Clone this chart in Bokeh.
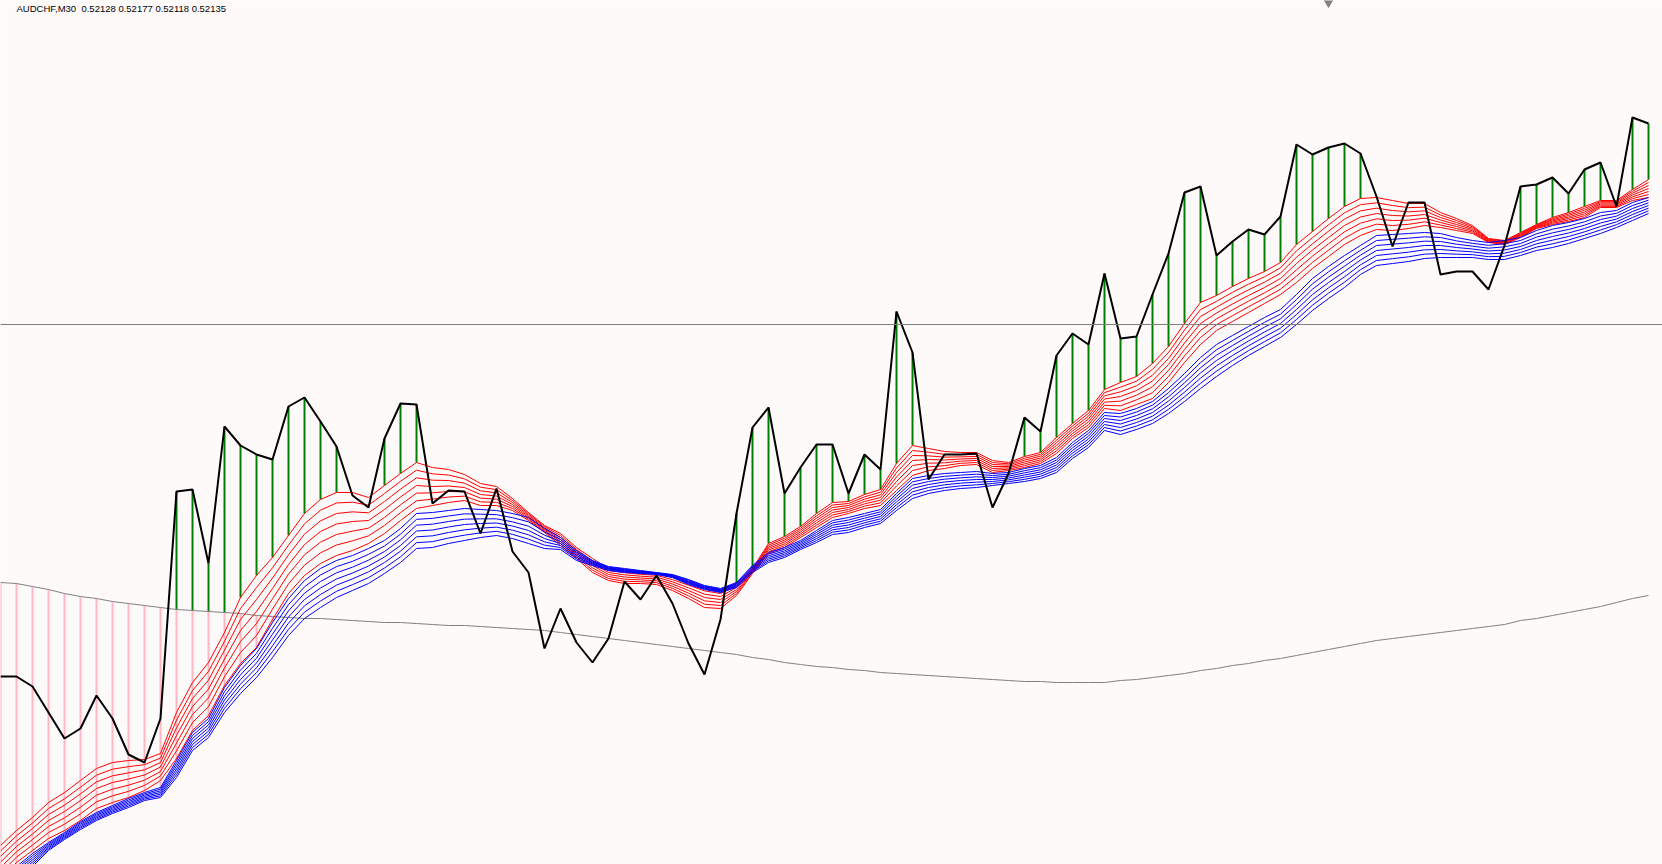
import numpy as np
from bokeh.plotting import figure
from bokeh.models import Range1d, Label, Span
from bokeh.embed import file_html
from bokeh.resources import INLINE

symbol = "AUDCHF,M30"
ohlc_text = "0.52128 0.52177 0.52118 0.52135"

close = [
    0.51582, 0.51582, 0.51572, 0.51546, 0.51520, 0.51530, 0.51563, 0.51540, 0.51504, 0.51496,
    0.51540, 0.51767, 0.51769, 0.51695, 0.51832, 0.51813, 0.51804, 0.51799, 0.51852, 0.51861,
    0.51837, 0.51812, 0.51763, 0.51751, 0.51820, 0.51855, 0.51854, 0.51755, 0.51768, 0.51767,
    0.51725, 0.51770, 0.51707, 0.51686, 0.51610, 0.51650, 0.51616, 0.51596, 0.51620, 0.51677,
    0.51659, 0.51683, 0.51655, 0.51615, 0.51584, 0.51639, 0.51745, 0.51831, 0.51851, 0.51765,
    0.51791, 0.51814, 0.51814, 0.51765, 0.51804, 0.51789, 0.51947, 0.51906, 0.51779, 0.51804,
    0.51804, 0.51805, 0.51751, 0.51785, 0.51841, 0.51827, 0.51903, 0.51925, 0.51914, 0.51985,
    0.51920, 0.51922, 0.51964, 0.52005, 0.52066, 0.52072, 0.52003, 0.52017, 0.52029, 0.52024,
    0.52042, 0.52114, 0.52104, 0.52111, 0.52115, 0.52105, 0.52062, 0.52012, 0.52056, 0.52056,
    0.51984, 0.51987, 0.51987, 0.51969, 0.52013, 0.52072, 0.52074, 0.52081, 0.52065, 0.52089,
    0.52096, 0.52052, 0.52141, 0.52135]

red_upper = [
    0.51413, 0.51428, 0.51441, 0.51456, 0.51466, 0.51478, 0.51490, 0.51496, 0.51498, 0.51499,
    0.51505, 0.51546, 0.51576, 0.51596, 0.51626, 0.51661, 0.51683, 0.51701, 0.51723, 0.51745,
    0.51759, 0.51766, 0.51766, 0.51761, 0.51773, 0.51785, 0.51796, 0.51791, 0.51789, 0.51784,
    0.51775, 0.51772, 0.51760, 0.51746, 0.51733, 0.51725, 0.51711, 0.51700, 0.51690, 0.51688,
    0.51686, 0.51685, 0.51681, 0.51676, 0.51671, 0.51668, 0.51675, 0.51690, 0.51715, 0.51722,
    0.51732, 0.51745, 0.51756, 0.51757, 0.51764, 0.51769, 0.51795, 0.51813, 0.51810, 0.51807,
    0.51806, 0.51806, 0.51798, 0.51796, 0.51802, 0.51806, 0.51821, 0.51835, 0.51848, 0.51869,
    0.51876, 0.51882, 0.51895, 0.51912, 0.51935, 0.51956, 0.51963, 0.51972, 0.51980, 0.51987,
    0.51996, 0.52014, 0.52027, 0.52040, 0.52052, 0.52060, 0.52061, 0.52058, 0.52055, 0.52055,
    0.52046, 0.52040, 0.52033, 0.52020, 0.52018, 0.52026, 0.52034, 0.52041, 0.52046, 0.52052,
    0.52058, 0.52058, 0.52069, 0.52079]

red_lower = [
    0.51380, 0.51396, 0.51408, 0.51420, 0.51428, 0.51438, 0.51450, 0.51456, 0.51461, 0.51468,
    0.51478, 0.51500, 0.51528, 0.51543, 0.51573, 0.51595, 0.51611, 0.51639, 0.51665, 0.51683,
    0.51695, 0.51703, 0.51708, 0.51715, 0.51725, 0.51738, 0.51750, 0.51753, 0.51756, 0.51758,
    0.51753, 0.51753, 0.51748, 0.51738, 0.51726, 0.51713, 0.51700, 0.51686, 0.51678, 0.51675,
    0.51675, 0.51674, 0.51668, 0.51660, 0.51651, 0.51650, 0.51663, 0.51685, 0.51705, 0.51711,
    0.51721, 0.51731, 0.51741, 0.51745, 0.51750, 0.51753, 0.51768, 0.51783, 0.51788, 0.51790,
    0.51793, 0.51794, 0.51786, 0.51788, 0.51791, 0.51795, 0.51805, 0.51820, 0.51831, 0.51850,
    0.51848, 0.51854, 0.51860, 0.51876, 0.51896, 0.51914, 0.51928, 0.51937, 0.51946, 0.51955,
    0.51964, 0.51976, 0.51990, 0.52002, 0.52014, 0.52023, 0.52029, 0.52028, 0.52030, 0.52033,
    0.52031, 0.52028, 0.52025, 0.52016, 0.52014, 0.52021, 0.52030, 0.52034, 0.52037, 0.52041,
    0.52051, 0.52051, 0.52058, 0.52061]

blue_upper = [
    0.51376, 0.51392, 0.51405, 0.51416, 0.51426, 0.51437, 0.51446, 0.51453, 0.51460, 0.51466,
    0.51471, 0.51498, 0.51526, 0.51540, 0.51571, 0.51593, 0.51610, 0.51636, 0.51660, 0.51678,
    0.51690, 0.51698, 0.51703, 0.51710, 0.51718, 0.51730, 0.51745, 0.51746, 0.51748, 0.51750,
    0.51749, 0.51748, 0.51745, 0.51741, 0.51730, 0.51721, 0.51708, 0.51698, 0.51692, 0.51690,
    0.51688, 0.51686, 0.51684, 0.51679, 0.51673, 0.51670, 0.51676, 0.51693, 0.51706, 0.51711,
    0.51718, 0.51728, 0.51738, 0.51741, 0.51745, 0.51749, 0.51765, 0.51780, 0.51783, 0.51785,
    0.51786, 0.51787, 0.51785, 0.51786, 0.51790, 0.51793, 0.51801, 0.51816, 0.51828, 0.51846,
    0.51845, 0.51850, 0.51857, 0.51870, 0.51885, 0.51901, 0.51914, 0.51923, 0.51932, 0.51941,
    0.51949, 0.51964, 0.51980, 0.51992, 0.52003, 0.52013, 0.52023, 0.52024, 0.52025, 0.52026,
    0.52025, 0.52021, 0.52018, 0.52016, 0.52018, 0.52021, 0.52028, 0.52033, 0.52036, 0.52040,
    0.52046, 0.52048, 0.52056, 0.52061]

blue_lower = [
    0.51363, 0.51380, 0.51392, 0.51408, 0.51419, 0.51429, 0.51438, 0.51445, 0.51451, 0.51458,
    0.51461, 0.51481, 0.51508, 0.51521, 0.51546, 0.51565, 0.51581, 0.51601, 0.51623, 0.51640,
    0.51651, 0.51661, 0.51668, 0.51675, 0.51685, 0.51696, 0.51710, 0.51711, 0.51715, 0.51718,
    0.51721, 0.51723, 0.51720, 0.51715, 0.51710, 0.51709, 0.51698, 0.51693, 0.51688, 0.51686,
    0.51685, 0.51684, 0.51681, 0.51674, 0.51669, 0.51666, 0.51671, 0.51686, 0.51696, 0.51701,
    0.51709, 0.51716, 0.51724, 0.51726, 0.51731, 0.51735, 0.51748, 0.51760, 0.51765, 0.51768,
    0.51770, 0.51771, 0.51773, 0.51775, 0.51777, 0.51780, 0.51786, 0.51800, 0.51811, 0.51828,
    0.51824, 0.51829, 0.51835, 0.51845, 0.51857, 0.51870, 0.51882, 0.51893, 0.51903, 0.51912,
    0.51921, 0.51934, 0.51948, 0.51960, 0.51971, 0.51984, 0.51993, 0.51995, 0.51997, 0.52000,
    0.52001, 0.52001, 0.52001, 0.51999, 0.51999, 0.52003, 0.52008, 0.52011, 0.52015, 0.52020,
    0.52025, 0.52031, 0.52038, 0.52045]

slow_ma = [
    0.51676, 0.51675, 0.51672, 0.51669, 0.51665, 0.51662, 0.51660, 0.51657, 0.51655, 0.51653,
    0.51651, 0.51649, 0.51648, 0.51647, 0.51646, 0.51645, 0.51643, 0.51642, 0.51641, 0.51640,
    0.51640, 0.51639, 0.51638, 0.51637, 0.51636, 0.51636, 0.51635, 0.51634, 0.51633, 0.51633,
    0.51632, 0.51631, 0.51630, 0.51629, 0.51628, 0.51626, 0.51624, 0.51622, 0.51620, 0.51618,
    0.51616, 0.51614, 0.51612, 0.51610, 0.51608, 0.51606, 0.51604, 0.51601, 0.51599, 0.51596,
    0.51594, 0.51592, 0.51591, 0.51589, 0.51588, 0.51586, 0.51585, 0.51584, 0.51583, 0.51582,
    0.51581, 0.51580, 0.51579, 0.51578, 0.51577, 0.51577, 0.51576, 0.51576, 0.51576, 0.51576,
    0.51578, 0.51579, 0.51581, 0.51583, 0.51585, 0.51588, 0.51590, 0.51593, 0.51595, 0.51598,
    0.51600, 0.51603, 0.51606, 0.51609, 0.51612, 0.51615, 0.51618, 0.51620, 0.51622, 0.51624,
    0.51626, 0.51628, 0.51630, 0.51632, 0.51634, 0.51638, 0.51640, 0.51643, 0.51646, 0.51649,
    0.51652, 0.51656, 0.51660, 0.51663]

level_price = 0.51934
shift_marker_bar = 83
lines_per_band = 7

W, H = 1662, 864
BAR_PX = 16.0
PRICE_TOP = 0.52258
PX_PER_PRICE = 100000.0

n = len(close)
bars = np.arange(n)
c = np.array(close)
ru, rl = np.array(red_upper), np.array(red_lower)
bu, bl = np.array(blue_upper), np.array(blue_lower)
ma = np.array(slow_ma)

p = figure(width=W, height=H,
           x_range=Range1d(0.0, W / BAR_PX),
           y_range=Range1d(PRICE_TOP - H / PX_PER_PRICE, PRICE_TOP),
           toolbar_location=None, output_backend="svg",
           x_axis_type=None, y_axis_type=None,
           min_border=0, outline_line_color=None,
           background_fill_color="#FFFAFA", border_fill_color="#FFFAFA")
p.grid.visible = False

# pink histogram: slow MA above the upper blue line
pk = ma > bu
p.segment(x0=bars[pk], y0=ma[pk], x1=bars[pk], y1=bu[pk], line_color="#FFB6C1", line_width=2)

# green histogram: close above the upper red line (not over the pink part)
green_low = np.where(pk, np.maximum(ru, ma), ru)
g = c > green_low
p.segment(x0=bars[g], y0=c[g], x1=bars[g], y1=green_low[g], line_color="#008000", line_width=2)

# slow MA
p.line(bars, ma, line_color="#808080", line_width=1)

# horizontal level
p.add_layout(Span(location=level_price, dimension="width", line_color="#808080", line_width=1))

# red band
xs = [list(bars)] * lines_per_band
p.multi_line(xs=xs,
             ys=[list(ru + (rl - ru) * i / (lines_per_band - 1)) for i in range(lines_per_band)],
             line_color="#FF0000", line_width=1)
# blue band
p.multi_line(xs=xs,
             ys=[list(bu + (bl - bu) * i / (lines_per_band - 1)) for i in range(lines_per_band)],
             line_color="#0000FF", line_width=1)

# close line
p.line(bars, c, line_color="#000000", line_width=2)

# chart shift marker at the top edge
p.scatter(x=[shift_marker_bar], y=[PRICE_TOP], marker="inverted_triangle", size=12,
          fill_color="#808080", line_color="#808080")

p.add_layout(Label(x=16, y=H - 2, x_units="screen", y_units="screen",
                   text=symbol + "\u00a0\u00a0" + ohlc_text, text_baseline="top",
                   text_font="Liberation Sans", text_font_size="9.5px", text_color="#000000"))

open("out.html", "w").write(file_html(p, INLINE))
